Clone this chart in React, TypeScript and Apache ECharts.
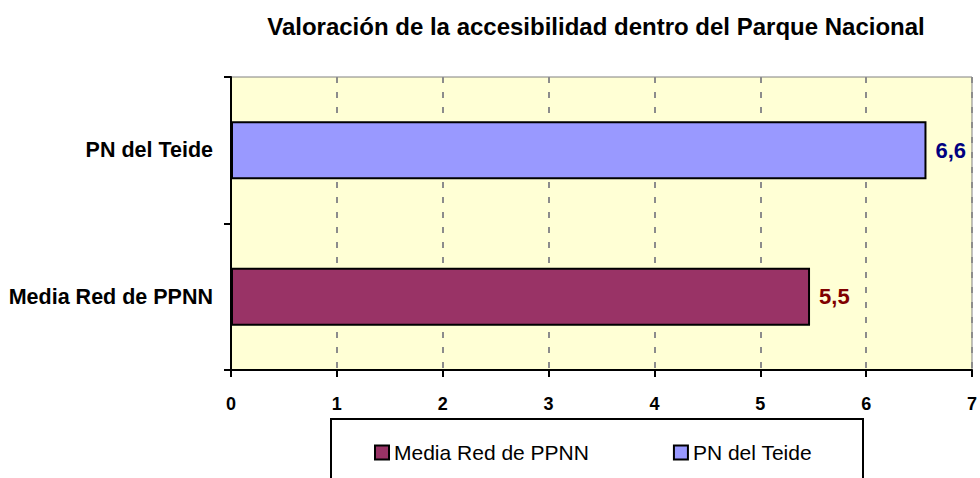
import React, { useEffect, useRef } from "react";
import * as echarts from "echarts";

const titleText = "Valoración de la accesibilidad dentro del Parque Nacional";
const categories = ["Media Red de PPNN", "PN del Teide"];
const seriesNames = ["Media Red de PPNN", "PN del Teide"];
const values = [5.47, 6.57];
const barColors = ["#993366", "#9999FF"];
const labelColors = ["#800000", "#000080"];
const xTicks = [0, 1, 2, 3, 4, 5, 6, 7];

const FONT = "'Liberation Sans', Arial, sans-serif";

export default function App() {
  const ref = useRef<HTMLDivElement>(null);
  useEffect(() => {
    document.body.style.margin = "0";
    const chart = echarts.init(ref.current!, null, { renderer: "svg" });
    const series = seriesNames.map((name, i) => ({
      name,
      type: "bar",
      stack: "total",
      barWidth: 58,
      data: categories.map((_, j) => (j === i ? values[i] : "-")),
      itemStyle: { color: barColors[i], borderColor: "#000", borderWidth: 2 },
      label: {
        show: true,
        position: "right",
        distance: 9,
        color: labelColors[i],
        fontFamily: FONT,
        fontWeight: "bold",
        fontSize: 22,
        formatter: (p: any) => Number(p.value).toFixed(1).replace(".", ","),
      },
    }));
    chart.setOption({
      animation: false,
      grid: {
        left: 231,
        right: 5,
        top: 77,
        bottom: 108,
        show: true,
        backgroundColor: "#FFFFD5",
        borderColor: "#808080",
        borderWidth: 1,
      },
      xAxis: {
        type: "value",
        min: xTicks[0],
        max: xTicks[xTicks.length - 1],
        interval: 1,
        axisLine: { show: true, lineStyle: { color: "#000", width: 2 } },
        axisTick: { show: true, length: 7, lineStyle: { color: "#000", width: 2 } },
        axisLabel: {
          margin: 25,
          color: "#000",
          fontFamily: FONT,
          fontWeight: "bold",
          fontSize: 18,
        },
        splitLine: {
          show: true,
          lineStyle: { color: "#8c8c8c", width: 2, type: [6, 9] },
        },
      },
      yAxis: {
        type: "category",
        data: categories,
        axisLine: { show: true, lineStyle: { color: "#000", width: 2 } },
        axisTick: { show: true, length: 7, lineStyle: { color: "#000", width: 2 } },
        axisLabel: {
          margin: 18,
          color: "#000",
          fontFamily: FONT,
          fontWeight: "bold",
          fontSize: 21.5,
        },
        splitLine: { show: false },
      },
      legend: {
        data: seriesNames,
        left: 369,
        top: 437,
        itemWidth: 14,
        itemHeight: 14,
        itemGap: 84,
        icon: "rect",
        itemStyle: { borderColor: "#000", borderWidth: 2 },
        textStyle: { color: "#000", fontFamily: FONT, fontSize: 21, padding: [0, 0, 0, 0] },
      },
      graphic: [
        {
          type: "text",
          x: 596,
          y: 26,
          style: {
            text: titleText,
            font: `bold 24px ${FONT}`,
            fill: "#000",
            textAlign: "center",
            textVerticalAlign: "middle",
          },
        },
        {
          type: "rect",
          shape: { x: 331, y: 419, width: 532, height: 100 },
          style: { fill: "none", stroke: "#000", lineWidth: 2 },
        },
      ],
      series,
    });
    return () => chart.dispose();
  }, []);
  return <div ref={ref} style={{ width: 980, height: 478 }} />;
}
